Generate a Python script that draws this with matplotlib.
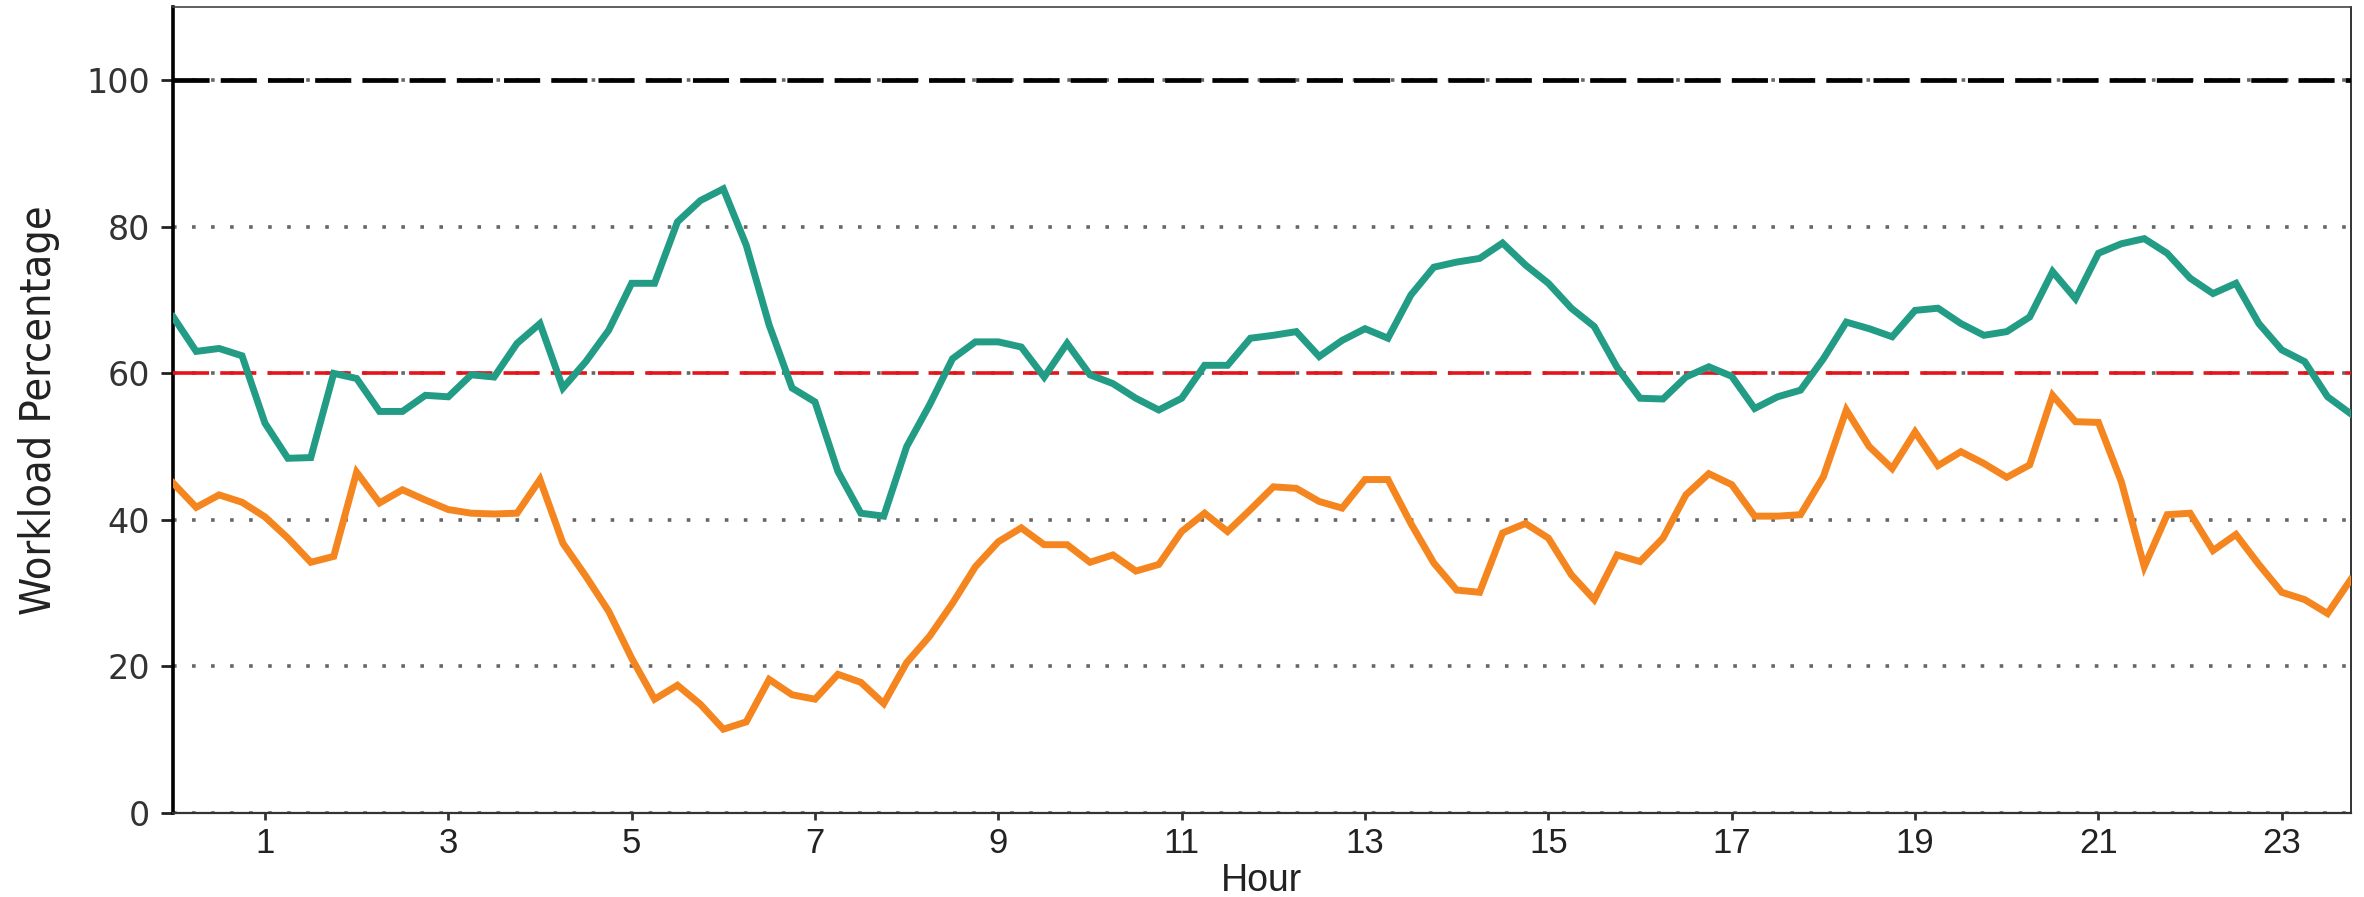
import os
import numpy as np
import matplotlib
matplotlib.use("Agg")
import matplotlib.pyplot as plt
from matplotlib import font_manager

# Time of day in hours (15-minute steps)
hours = np.arange(0, 24, 0.25)

# Workload, one value per 15 minutes
upper_load = [
    67.7, 63.0, 63.4, 62.4, 53.2, 48.4, 48.5, 60.0,
    59.3, 54.8, 54.8, 57.0, 56.8, 59.8, 59.5, 64.1,
    66.8, 58.0, 61.6, 65.9, 72.3, 72.3, 80.7, 83.6,
    85.2, 77.5, 66.6, 58.0, 56.1, 46.6, 40.9, 40.5,
    50.0, 55.7, 62.0, 64.3, 64.3, 63.6, 59.5, 64.1,
    59.8, 58.6, 56.6, 55.0, 56.6, 61.1, 61.1, 64.8,
    65.2, 65.7, 62.3, 64.5, 66.1, 64.8, 70.7, 74.5,
    75.2, 75.7, 77.8, 74.8, 72.3, 68.9, 66.4, 60.8,
    56.6, 56.5, 59.5, 60.9, 59.6, 55.2, 56.8, 57.7,
    62.0, 67.0, 66.1, 65.0, 68.6, 68.9, 66.8, 65.2,
    65.7, 67.7, 73.9, 70.2, 76.4, 77.7, 78.4, 76.4,
    73.0, 70.9, 72.3, 66.8, 63.2, 61.6, 56.8, 54.5,
]
lower_load = [
    45.0, 41.7, 43.4, 42.4, 40.4, 37.5, 34.2, 35.0,
    46.5, 42.3, 44.1, 42.7, 41.4, 40.9, 40.8, 40.9,
    45.5, 36.8, 32.3, 27.5, 21.1, 15.5, 17.4, 14.8,
    11.4, 12.4, 18.2, 16.1, 15.5, 18.9, 17.8, 14.9,
    20.5, 24.1, 28.6, 33.6, 37.0, 38.9, 36.6, 36.6,
    34.2, 35.2, 33.0, 33.9, 38.4, 40.9, 38.4, 41.4,
    44.5, 44.3, 42.5, 41.6, 45.5, 45.5, 39.5, 34.1,
    30.4, 30.1, 38.2, 39.5, 37.5, 32.5, 29.1, 35.2,
    34.3, 37.5, 43.4, 46.3, 44.8, 40.5, 40.5, 40.7,
    45.9, 55.0, 50.0, 47.0, 52.0, 47.4, 49.3, 47.7,
    45.8, 47.5, 57.0, 53.4, 53.3, 45.2, 33.6, 40.7,
    40.9, 35.8, 38.0, 33.9, 30.1, 29.1, 27.2, 31.8,
]

limit_max = 100
limit_warn = 60
y_ticks = [0, 20, 40, 60, 80, 100]
x_ticks = [1, 3, 5, 7, 9, 11, 13, 15, 17, 19, 21, 23]


# the y label uses a condensed face; take whichever one is installed
def condensed_font():
    files = {os.path.basename(f.fname).lower(): f.fname for f in font_manager.fontManager.ttflist}
    for name, size in [("liberationsansnarrow-regular.ttf", 36),
                       ("dejavusanscondensed.ttf", 31),
                       ("robotocondensed-regular.ttf", 34)]:
        if name in files:
            return font_manager.FontProperties(fname=files[name], size=size)
    return font_manager.FontProperties(family="Liberation Sans", size=30)


plt.rcParams["lines.scale_dashes"] = False

fig = plt.figure(figsize=(23.64, 8.97), dpi=100)
ax = fig.add_axes([0.0733, 0.094, 0.921, 0.8979])

# threshold lines
dash = (0, (26, 8))
ax.axhline(limit_max, color="black", lw=3.4, linestyle=dash, zorder=3)
ax.axhline(limit_warn, color="#e5141b", lw=2.6, linestyle=dash, zorder=3)

ax.plot(hours, upper_load, color="#239c86", lw=5, zorder=4, solid_joinstyle="miter")
ax.plot(hours, lower_load, color="#f5861f", lw=5, zorder=4, solid_joinstyle="miter")

ax.set_xlim(0, 23.75)
ax.set_ylim(0, 110)
ax.set_xticks(x_ticks)
ax.set_yticks(y_ticks)

ax.set_axisbelow(True)
ax.yaxis.grid(True, color="#666666", lw=2.6, linestyle=(0, (2.6, 11.1)))

ax.spines["left"].set(lw=2.6, color="black")
ax.spines["bottom"].set(lw=1.6, color="#333333")
ax.spines["top"].set(lw=1.2, color="#444444")
ax.spines["right"].set(lw=1.4, color="#333333")

ax.tick_params(axis="y", length=8.6, width=2.0, color="#222222", pad=8,
               labelsize=24, labelcolor="#333333")
ax.tick_params(axis="x", length=5, width=2.0, color="#333333", pad=5,
               labelsize=25, labelcolor="#222222")
for lab in ax.get_xticklabels():
    lab.set_family("Liberation Sans")

ax.set_ylabel("Workload Percentage", fontproperties=condensed_font(), color="#222222")
ax.yaxis.set_label_coords(-0.052, 0.5)
ax.set_xlabel("Hour", fontsize=27, family="Liberation Sans", color="#222222")
ax.xaxis.set_label_coords(0.5, -0.062)

fig.savefig("out.png", dpi=100)
